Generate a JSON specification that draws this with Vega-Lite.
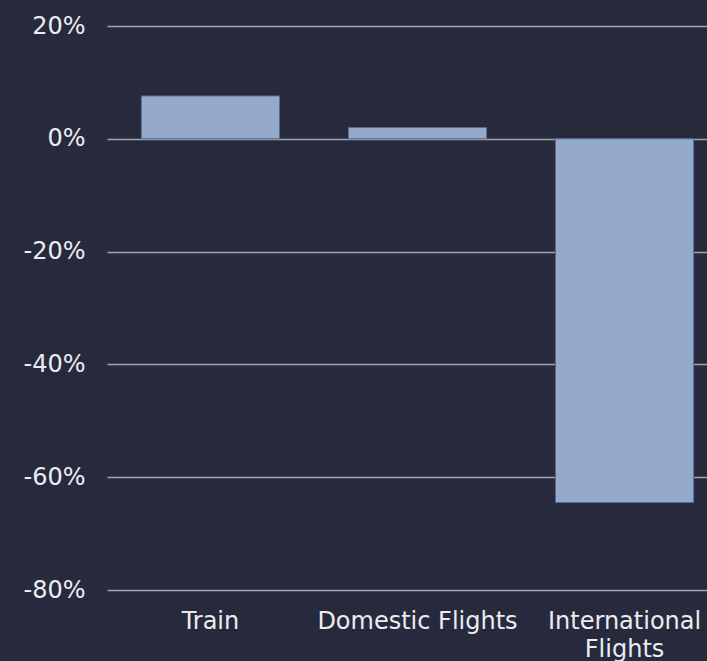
{
  "$schema": "https://vega.github.io/schema/vega-lite/v6.json",
  "autosize": {"type": "none"},
  "padding": {"left": 107, "top": 26, "right": 0, "bottom": 71},
  "width": 621,
  "height": 564,
  "background": "#262a3c",
  "config": {
    "view": {"stroke": null},
    "font": "DejaVu Sans",
    "axis": {"labelFont": "DejaVu Sans", "labelColor": "#ececf0", "labelFontSize": 24, "labelFontWeight": 400, "labelLimit": 400}
  },
  "data": {
    "values": [
      {"mode": "Train", "change": 0.076},
      {"mode": "Domestic Flights", "change": 0.02},
      {"mode": "International Flights", "change": -0.645}
    ]
  },
  "mark": {"type": "bar", "color": "#95a9cb", "stroke": "#5c6b8c", "strokeWidth": 1},
  "encoding": {
    "x": {
      "field": "mode",
      "type": "nominal",
      "sort": null,
      "scale": {"paddingInner": 0.333, "paddingOuter": 0.166},
      "axis": {
        "title": null,
        "domain": false,
        "ticks": false,
        "labelAngle": 0,
        "labelPadding": 19,
        "labelLineHeight": 28,
        "labelLimit": 400,
        "labelExpr": "datum.label == 'International Flights' ? ['International', 'Flights'] : datum.label"
      }
    },
    "y": {
      "field": "change",
      "type": "quantitative",
      "scale": {"domain": [-0.8, 0.2], "nice": false},
      "axis": {
        "title": null,
        "format": ".0%",
        "labelExpr": "replace(datum.label, '\u2212', '-')",
        "values": [-0.8, -0.6, -0.4, -0.2, 0, 0.2],
        "domain": false,
        "ticks": false,
        "labelPadding": 22,
        "grid": true,
        "gridColor": "#a2a5b0",
        "gridWidth": 1.3
      }
    }
  }
}
